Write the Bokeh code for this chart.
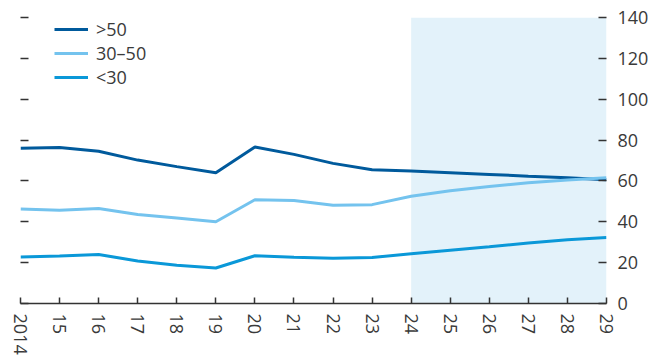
from bokeh.plotting import figure
from bokeh.models import LinearAxis, FixedTicker, BoxAnnotation, Legend, LegendItem
from bokeh.embed import file_html
from bokeh.resources import INLINE

years = [2014, 2015, 2016, 2017, 2018, 2019, 2020, 2021, 2022, 2023, 2024, 2025, 2026, 2027, 2028, 2029]
year_labels = ["2014", "15", "16", "17", "18", "19", "20", "21", "22", "23", "24", "25", "26", "27", "28", "29"]
over50 = [76.0, 76.4, 74.5, 70.2, 67.0, 64.0, 76.6, 73.0, 68.6, 65.5, 64.8, 64.0, 63.2, 62.3, 61.5, 60.6]
mid30_50 = [46.3, 45.6, 46.5, 43.6, 41.8, 40.0, 50.8, 50.4, 48.1, 48.4, 52.5, 55.2, 57.3, 59.1, 60.5, 61.6]
under30 = [22.8, 23.3, 24.0, 20.8, 18.7, 17.4, 23.4, 22.6, 22.2, 22.5, 24.4, 26.1, 27.8, 29.6, 31.2, 32.3]
series_names = [">50", "30\u201350", "<30"]
y_ticks = [0, 20, 40, 60, 80, 100, 120, 140]
forecast_start = 2024

FONT = "Open Sans"
TXT = "#3a3a3a"
colors = ["#005a9c", "#74c3ee", "#0a98d8"]

p = figure(frame_width=586, frame_height=286, output_backend="svg", toolbar_location=None,
           x_range=(years[0], years[-1]), y_range=(y_ticks[0], y_ticks[-1]),
           y_axis_location="right", min_border_left=20, min_border_top=17,
           min_border_right=0, min_border_bottom=0)
p.outline_line_color = None
p.xgrid.visible = False
p.ygrid.visible = False

shade = BoxAnnotation(left=forecast_start, right=years[-1], fill_color="#e3f2fa",
                      fill_alpha=1.0, line_color=None, level="underlay")
p.add_layout(shade)

renderers = []
for vals, col in zip([over50, mid30_50, under30], colors):
    r = p.line(years, vals, line_color=col, line_width=3)
    renderers.append(r)

# x axis
xa = p.xaxis[0]
xa.ticker = FixedTicker(ticks=years)
xa.major_label_overrides = {y: l for y, l in zip(years, year_labels)}
xa.major_label_orientation = "vertical"
xa.major_tick_in = 6
xa.major_tick_out = 0
xa.minor_tick_line_color = None
xa.axis_line_color = "#333333"
xa.axis_line_width = 1.5
xa.major_tick_line_color = "#333333"
xa.major_tick_line_width = 1.5
xa.major_label_text_font = FONT
xa.major_label_text_font_size = "18px"
xa.major_label_text_color = TXT
xa.major_label_standoff = 10

# right y axis
ya = p.yaxis[0]
ya.ticker = FixedTicker(ticks=y_ticks)
ya.major_tick_in = 8
ya.major_tick_out = 0
ya.minor_tick_line_color = None
ya.axis_line_color = None
ya.major_tick_line_color = "#333333"
ya.major_tick_line_width = 1.5
ya.major_label_text_font = FONT
ya.major_label_text_font_size = "18px"
ya.major_label_text_color = TXT
ya.major_label_standoff = 11

# left axis: ticks only
la = LinearAxis(ticker=FixedTicker(ticks=y_ticks))
la.major_tick_in = 8
la.major_tick_out = 0
la.minor_tick_line_color = None
la.axis_line_color = None
la.major_tick_line_color = "#333333"
la.major_tick_line_width = 1.5
la.major_label_overrides = {t: "" for t in y_ticks}
la.major_label_text_font_size = "1px"
la.major_label_standoff = 0
p.add_layout(la, "left")

legend = Legend(items=[LegendItem(label=n, renderers=[r]) for n, r in zip(series_names, renderers)],
                location=(34, 214), orientation="vertical")
legend.border_line_color = None
legend.background_fill_alpha = 0
legend.padding = 0
legend.margin = 0
legend.spacing = 0
legend.glyph_width = 34
legend.glyph_height = 20
legend.label_height = 20
legend.label_standoff = 8
legend.label_text_font = FONT
legend.label_text_font_size = "18px"
legend.label_text_color = TXT
p.add_layout(legend)

open("out.html", "w").write(file_html(p, INLINE))
